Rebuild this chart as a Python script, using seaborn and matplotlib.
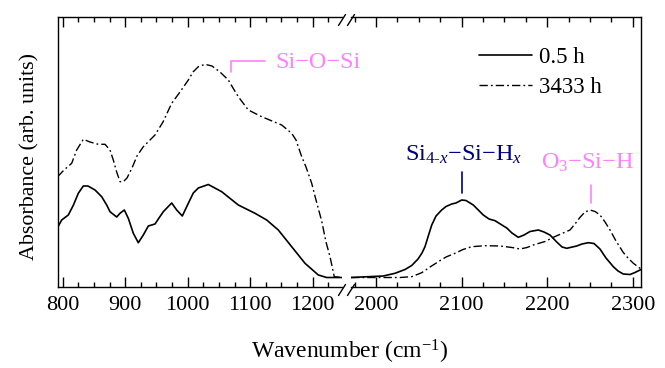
import matplotlib
matplotlib.use("Agg")
import matplotlib.pyplot as plt
from matplotlib.ticker import MultipleLocator
import seaborn as sns

# ---- Si-O region (cm^-1) ----
wn_lo_05h = [791.4, 798.4, 809.0, 817.0, 825.0, 833.0, 840.5, 851.7, 862.4, 870.4,
             875.7, 886.4, 891.7, 898.6, 905.0, 913.0, 921.0, 929.0, 937.0, 947.7,
             954.1, 961.0, 974.4, 982.4, 991.4, 1001.0, 1009.0, 1017.0, 1033.0, 1054.4,
             1081.0, 1107.7, 1126.4, 1145.0, 1166.4, 1187.7, 1209.0, 1222.4, 1248.5]
ab_lo_05h = [0.495, 0.575, 0.625, 0.722, 0.842, 0.915, 0.915, 0.875, 0.808, 0.725,
             0.658, 0.605, 0.642, 0.675, 0.592, 0.442, 0.348, 0.425, 0.515, 0.535,
             0.595, 0.658, 0.745, 0.675, 0.615, 0.742, 0.845, 0.895, 0.930, 0.858,
             0.725, 0.642, 0.575, 0.475, 0.308, 0.142, 0.025, 0.000, 0.000]

wn_lo_3433h = [792.0, 802.1, 814.4, 822.4, 833.0, 843.7, 857.0, 867.7, 875.7, 881.0,
               886.4, 891.7, 897.0, 902.9, 910.9, 918.9, 929.0, 947.7, 960.5, 974.4,
               987.7, 1001.0, 1008.5, 1017.0, 1027.7, 1038.9, 1051.7, 1065.0, 1072.5, 1081.0,
               1097.0, 1118.4, 1150.4, 1166.4, 1173.3, 1182.4, 1189.3, 1198.4, 1205.3, 1214.4,
               1221.3, 1227.7, 1234.6, 1248.5]
ab_lo_3433h = [1.008, 1.075, 1.142, 1.275, 1.382, 1.355, 1.332, 1.332, 1.275, 1.175,
               1.055, 0.958, 0.958, 0.995, 1.095, 1.215, 1.308, 1.425, 1.555, 1.742,
               1.855, 1.975, 2.055, 2.108, 2.132, 2.115, 2.055, 1.975, 1.895, 1.808,
               1.675, 1.608, 1.525, 1.442, 1.375, 1.208, 1.105, 0.942, 0.775, 0.565,
               0.355, 0.208, 0.008, 0.000]

# ---- Si-H stretching region (cm^-1) ----
wn_hi_05h = [1970.8, 2008.5, 2022.2, 2033.9, 2041.7, 2049.1, 2053.7, 2057.2, 2060.7, 2065.1,
             2070.1, 2076.7, 2081.8, 2088.4, 2093.4, 2100.1, 2105.1, 2113.6, 2125.3, 2132.0,
             2139.0, 2152.7, 2158.8, 2166.2, 2172.9, 2179.9, 2189.6, 2196.2, 2203.2, 2211.1,
             2217.3, 2222.8, 2234.4, 2240.6, 2248.0, 2254.6, 2261.6, 2268.6, 2277.2, 2282.7,
             2288.8, 2296.7, 2302.5, 2309.5]
ab_hi_05h = [0.000, 0.015, 0.042, 0.080, 0.120, 0.185, 0.245, 0.308, 0.405, 0.525,
             0.615, 0.675, 0.710, 0.735, 0.745, 0.775, 0.770, 0.725, 0.625, 0.585,
             0.568, 0.495, 0.445, 0.402, 0.425, 0.460, 0.475, 0.455, 0.425, 0.355,
             0.305, 0.292, 0.315, 0.335, 0.348, 0.340, 0.285, 0.195, 0.108, 0.065,
             0.035, 0.030, 0.050, 0.080]

wn_hi_3433h = [1970.8, 2028.0, 2041.7, 2046.7, 2053.4, 2063.1, 2072.8, 2081.8, 2092.3, 2101.6,
               2111.8, 2127.3, 2144.8, 2158.8, 2168.2, 2176.4, 2183.7, 2197.4, 2207.1, 2217.2,
               2226.6, 2232.4, 2238.3, 2244.1, 2250.0, 2255.8, 2261.6, 2267.5, 2273.3, 2280.3,
               2288.8, 2294.3, 2300.6, 2309.5]
ab_hi_3433h = [0.000, 0.000, 0.008, 0.025, 0.048, 0.105, 0.158, 0.205, 0.242, 0.280,
               0.308, 0.318, 0.315, 0.300, 0.285, 0.300, 0.325, 0.360, 0.402, 0.440,
               0.475, 0.535, 0.602, 0.655, 0.675, 0.660, 0.625, 0.555, 0.475, 0.365,
               0.250, 0.195, 0.142, 0.085]

series_labels = ["0.5 h", "3433 h"]
lo_ticks = [800, 900, 1000, 1100, 1200]
hi_ticks = [2000, 2100, 2200, 2300]

PINK = "#ff80ff"
NAVY = "#000080"
DASHDOT = (0, (6, 2.2, 1.3, 2.2))
MINUS = "\u2212"

sns.set_theme(style="ticks", rc={
    "axes.edgecolor": "black", "xtick.color": "black", "ytick.color": "black",
    "text.color": "black", "axes.labelcolor": "black", "axes.linewidth": 1.0,
})
plt.rcParams["font.family"] = ["Liberation Serif", "DejaVu Serif"]
plt.rcParams["mathtext.fontset"] = "custom"
plt.rcParams["mathtext.rm"] = "Liberation Serif"
plt.rcParams["mathtext.it"] = "Liberation Serif:italic"
plt.rcParams["mathtext.bf"] = "Liberation Serif:bold"

W, H = 665, 368
fig = plt.figure(figsize=(W / 100, H / 100), dpi=100)


def box(x0, x1, y0=17, y1=287):
    return [x0 / W, 1 - y1 / H, (x1 - x0) / W, (y1 - y0) / H]


ax1 = fig.add_axes(box(58, 342))
ax2 = fig.add_axes(box(351, 641))

for ax, (wa, aa, wb, ab) in zip(
        (ax1, ax2),
        ((wn_lo_05h, ab_lo_05h, wn_lo_3433h, ab_lo_3433h),
         (wn_hi_05h, ab_hi_05h, wn_hi_3433h, ab_hi_3433h))):
    sns.lineplot(x=wa, y=aa, ax=ax, color="black", lw=1.2, sort=False,
                 estimator=None, label=series_labels[0])
    sns.lineplot(x=wb, y=ab, ax=ax, color="black", lw=1.0, linestyle=DASHDOT,
                 sort=False, estimator=None, label=series_labels[1])
    if ax.get_legend() is not None:
        ax.get_legend().remove()
    ax.set_ylim(-0.095, 2.605)
    ax.set_xlabel("")
    ax.set_ylabel("")
    ax.set_yticks([])
    ax.patch.set_visible(False)
    ax.xaxis.set_major_locator(MultipleLocator(100))
    ax.xaxis.set_minor_locator(MultipleLocator(25))
    ax.tick_params(axis="x", which="both", direction="in", top=True, bottom=True,
                   width=1.0, labelsize=16, pad=6.5)
    ax.tick_params(axis="x", which="major", length=7)
    ax.tick_params(axis="x", which="minor", length=3.5)
    for s in ax.spines.values():
        s.set_linewidth(1.0)
        s.set_color("black")

ax1.set_xlim(792.5, 1246.9)
ax2.set_xlim(1970.8, 2309.5)
ax1.set_xticks(lo_ticks)
ax2.set_xticks(hi_ticks)
ax1.spines["right"].set_visible(False)
ax2.spines["left"].set_visible(False)

# axis-break marks
for ax, xe, wpx in ((ax1, 1.0, 284), (ax2, 0.0, 290)):
    dx, dy, off = 3.5 / wpx, 5.5 / 270, -3.0 / 270
    for ye in (0.0, 1.0):
        ax.plot([xe - dx, xe + dx], [ye + off - dy, ye + off + dy],
                transform=ax.transAxes, color="black", lw=1.0, clip_on=False)

# band assignments
ax1.plot([1069.3, 1069.3, 1123.7], [2.055, 2.165, 2.165], color=PINK, lw=1.2,
         clip_on=False)
ax1.text(1139.7, 2.145, f"Si{MINUS}O{MINUS}Si", color=PINK, fontsize=17.5,
         ha="left", va="center", clip_on=False)

ax2.plot([2100, 2100], [0.845, 1.055], color=NAVY, lw=1.2)
ax2.text(2102.8, 1.225, f"Si$_{{4\u2010x}}${MINUS}Si{MINUS}H$_x$", color=NAVY,
         fontsize=17.5, ha="center", va="center")

ax2.plot([2251, 2251], [0.745, 0.925], color=PINK, lw=1.2)
ax2.text(2247, 1.145, f"O$_3${MINUS}Si{MINUS}H", color=PINK, fontsize=17.5,
         ha="center", va="center")

ax2.legend(handles=ax2.lines[:2], labels=series_labels, loc="upper left",
           bbox_to_anchor=(479 / W, 1 - 47 / H), bbox_transform=fig.transFigure,
           frameon=False, fontsize=16.5, handlelength=2.3, handletextpad=0.3,
           labelspacing=0.38, borderpad=0, borderaxespad=0)

fig.text(30 / W, 1 - 156 / H, "Absorbance (arb. units)", rotation=90,
         ha="center", va="center", fontsize=15.8)
fig.text(350 / W, 1 - 352 / H, "Wavenumber (cm$^{-1}$)", ha="center",
         va="center", fontsize=17)

fig.savefig("out.png", dpi=100)
